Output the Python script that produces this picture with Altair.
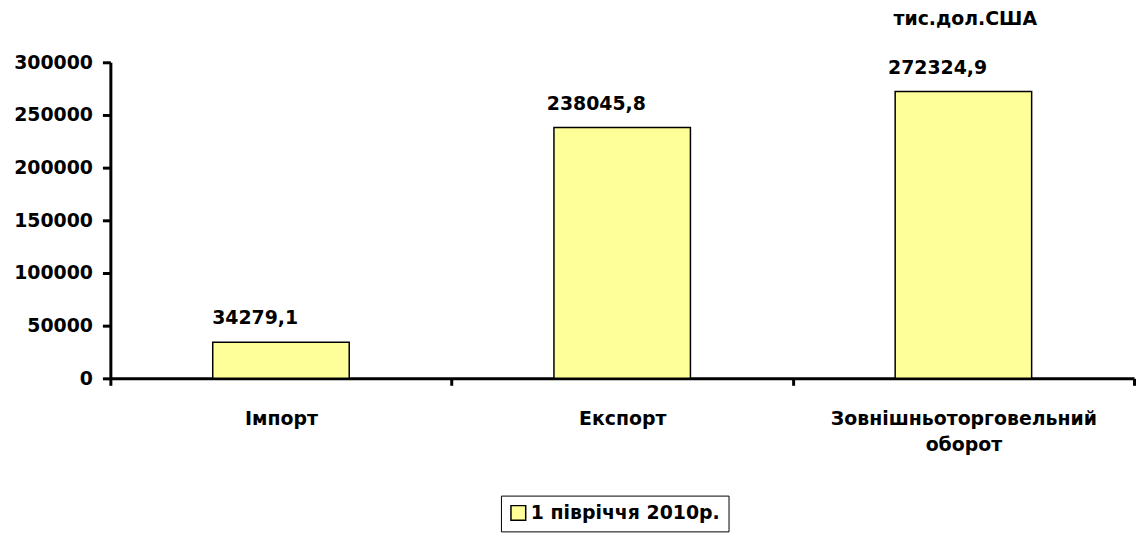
import altair as alt
import pandas as pd

categories = ["Імпорт", "Експорт", "Зовнішньоторговельний оборот"]
values = [34279.1, 238045.8, 272324.9]
series = "1 півріччя 2010р."
labels = [f"{v:.1f}".replace(".", ",") for v in values]
y_ticks = [0, 50000, 100000, 150000, 200000, 250000, 300000]

df = pd.DataFrame({
    "cat": categories,
    "val": values,
    "lab": labels,
    "series": [series] * len(categories),
})

FONT = "DejaVu Sans"
FS = 19

x_enc = alt.X(
    "cat:N",
    sort=categories,
    title=None,
    scale=alt.Scale(paddingInner=0, paddingOuter=0),
    axis=alt.Axis(
        labelAngle=0, labelLimit=0,
        labelExpr="datum.value == 'Зовнішньоторговельний оборот' ? ['Зовнішньоторговельний', 'оборот'] : datum.value",
        labelFont=FONT, labelFontSize=FS, labelFontWeight="bold", labelColor="black",
        labelPadding=24, labelLineHeight=27,
        domainColor="black", domainWidth=3,
        tickColor="black", tickWidth=3, tickSize=7, tickBand="extent",
    ),
)

y_enc = alt.Y(
    "val:Q",
    title=None,
    scale=alt.Scale(domain=[0, 300000], nice=False),
    axis=alt.Axis(
        values=y_ticks, format="d", grid=False,
        labelFont=FONT, labelFontSize=FS, labelFontWeight="bold", labelColor="black",
        labelPadding=10,
        domainColor="black", domainWidth=3,
        tickColor="black", tickWidth=3, tickSize=8,
    ),
)

bars = alt.Chart(df).mark_bar(
    stroke="black", strokeWidth=1.5, width=alt.RelativeBandSize(0.4)
).encode(
    x=x_enc,
    y=y_enc,
    color=alt.Color(
        "series:N",
        scale=alt.Scale(range=["#FFFF99"]),
        legend=alt.Legend(
            title=None, orient="none", legendX=393, legendY=436,
            strokeColor="black", padding=8, symbolType="square", symbolSize=220,
            symbolStrokeColor="black", symbolStrokeWidth=1.5,
            labelFont=FONT, labelFontSize=FS, labelFontWeight="bold", labelColor="black",
            labelOffset=3, labelLimit=0,
        ),
    ),
)

text = alt.Chart(df).mark_text(
    font=FONT, fontSize=FS, fontWeight="bold", color="black",
    dx=-26, dy=-18, baseline="alphabetic",
).encode(
    x=alt.X("cat:N", sort=categories),
    y="val:Q",
    text="lab:N",
)

chart = (bars + text).properties(
    width=1030,
    height=318,
    padding={"left": 5, "top": 0, "right": 0, "bottom": 0},
    title=alt.TitleParams(
        "тис.дол.США", anchor="start", frame="group", dx=788,
        font=FONT, fontSize=FS, fontWeight="bold", color="black", offset=25,
    ),
).configure_view(stroke=None)

chart.save("out.html", embed_options={"renderer": "svg", "actions": False})
